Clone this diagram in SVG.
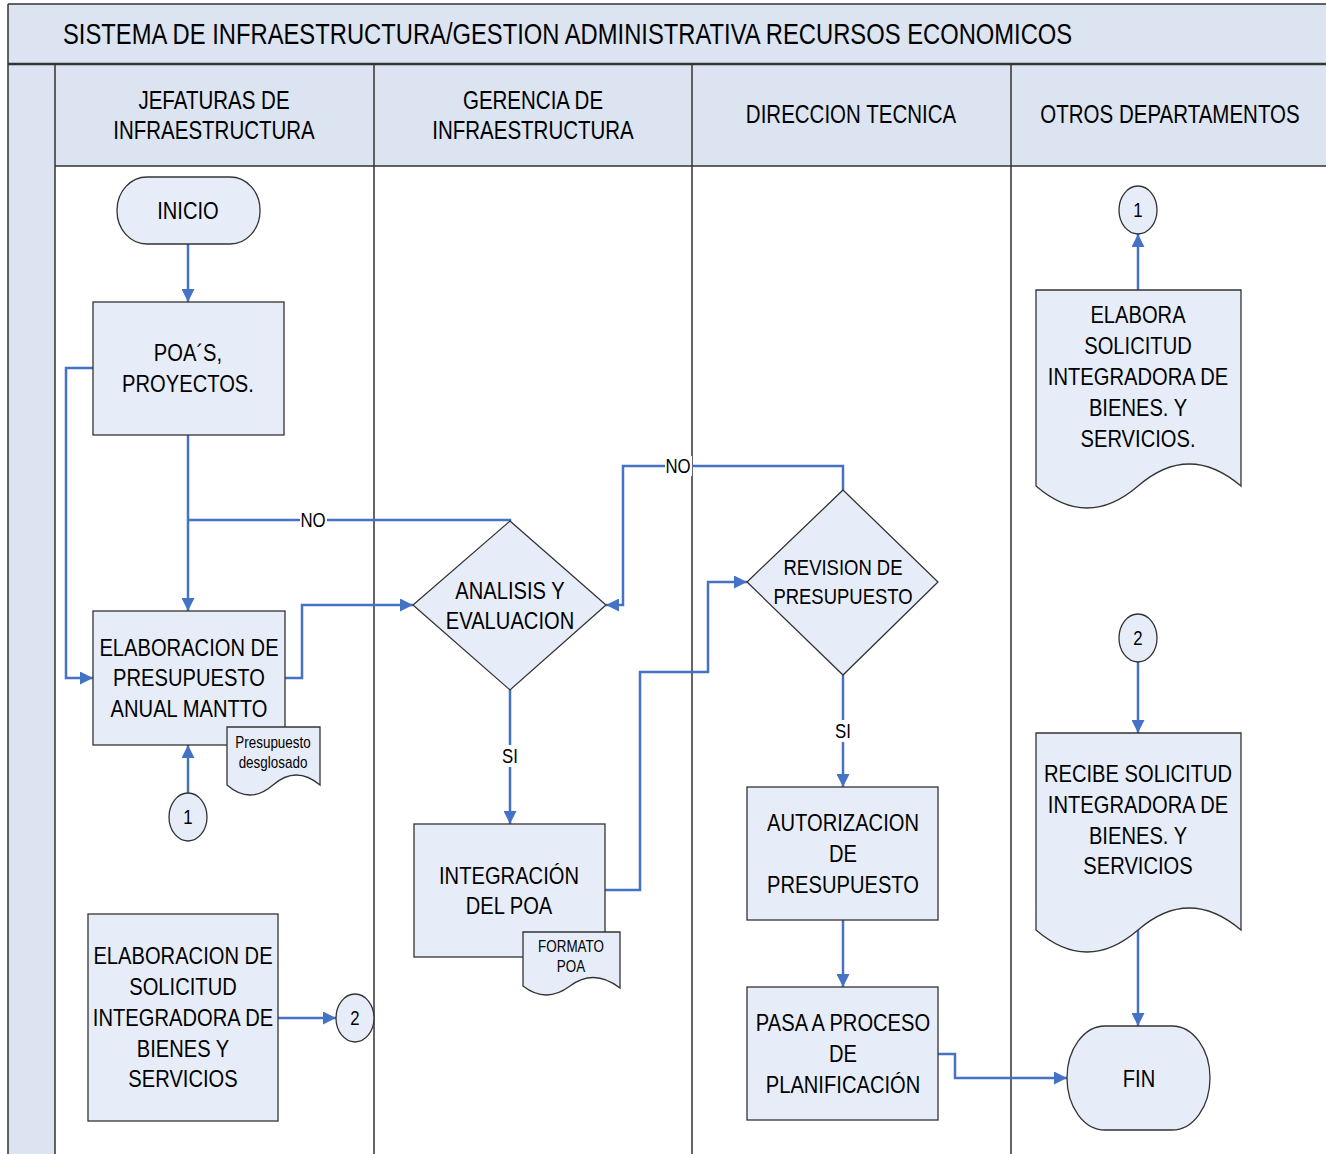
<svg xmlns="http://www.w3.org/2000/svg" width="1326" height="1154" viewBox="0 0 1326 1154">
<style>
.band{fill:#dce4f1}
.nd{fill:#e7edf8;stroke:#333;stroke-width:1.3}
.ln{stroke:#333;stroke-width:1.5;fill:none}
.c{fill:none;stroke:#4472c4;stroke-width:2.5}
.t{font-family:"Liberation Sans",Arial,sans-serif;font-size:24px;fill:#000;text-anchor:middle}
.h{font-size:25px}
.s{font-size:22px}
.sm{font-size:16px}
.num{font-size:20px}
.lb{font-size:20px}
.ttl{font-family:"Liberation Sans",Arial,sans-serif;font-size:29px;fill:#000}
</style>
<defs>
<marker id="ah" viewBox="0 0 10 10" refX="10" refY="5" markerWidth="15" markerHeight="13" markerUnits="userSpaceOnUse" orient="auto">
<path d="M0,0 L10,5 L0,10 z" fill="#4472c4"/>
</marker>
</defs>
<rect width="1326" height="1154" fill="#fff"/>
<g id="pool">
<rect class="band" x="8" y="4" width="1318" height="60"/>
<rect class="band" x="8" y="64" width="47" height="1090"/>
<rect class="band" x="55" y="64" width="1271" height="102"/>
<path class="ln" d="M8,4 H1326 M8,4 V1154"/>
<path d="M8,64 H1326" stroke="#333" stroke-width="2.5"/>
<path class="ln" d="M55,166 H1326 M55,64 V1154 M374,64 V1154 M692,64 V1154 M1011,64 V1154"/>
<text class="ttl" transform="translate(63,0) scale(.82,1)" x="0" y="44">SISTEMA DE INFRAESTRUCTURA/GESTION ADMINISTRATIVA RECURSOS ECONOMICOS</text>
<text class="t h" transform="translate(214,0) scale(.82,1)"><tspan x="0" y="109">JEFATURAS DE</tspan><tspan x="0" y="139">INFRAESTRUCTURA</tspan></text>
<text class="t h" transform="translate(533,0) scale(.82,1)"><tspan x="0" y="109">GERENCIA DE</tspan><tspan x="0" y="139">INFRAESTRUCTURA</tspan></text>
<text class="t h" transform="translate(851,0) scale(.82,1)" x="0" y="123">DIRECCION TECNICA</text>
<text class="t h" transform="translate(1170,0) scale(.82,1)" x="0" y="123">OTROS DEPARTAMENTOS</text>
</g>
<g id="connectors">
<path class="c" d="M188,244 V302" marker-end="url(#ah)"/>
<path class="c" d="M188,435 V611" marker-end="url(#ah)"/>
<path class="c" d="M510,521 V520 H188"/>
<path class="c" d="M93,368 H66 V678 H93" marker-end="url(#ah)"/>
<path class="c" d="M285,678 H302 V605 H413" marker-end="url(#ah)"/>
<path class="c" d="M510,690 V824" marker-end="url(#ah)"/>
<path class="c" d="M605,890 H640 V672 H708 V582 H747" marker-end="url(#ah)"/>
<path class="c" d="M843,490 V466 H623 V605 H606" marker-end="url(#ah)"/>
<path class="c" d="M843,675 V787" marker-end="url(#ah)"/>
<path class="c" d="M843,920 V987" marker-end="url(#ah)"/>
<path class="c" d="M938,1054 H955 V1078 H1067" marker-end="url(#ah)"/>
<path class="c" d="M188,793 V745" marker-end="url(#ah)"/>
<path class="c" d="M278,1018 H336" marker-end="url(#ah)"/>
<path class="c" d="M1138,290 V234" marker-end="url(#ah)"/>
<path class="c" d="M1138,662 V733" marker-end="url(#ah)"/>
<path class="c" d="M1138,929 V1026" marker-end="url(#ah)"/>
<rect x="300" y="510" width="27" height="20" fill="#fff"/>
<text class="t lb" transform="translate(313,0) scale(.84,1)" x="0" y="527">NO</text>
<rect x="665" y="456" width="27" height="20" fill="#fff"/>
<text class="t lb" transform="translate(678,0) scale(.84,1)" x="0" y="473">NO</text>
<rect x="499" y="745" width="22" height="22" fill="#fff"/>
<text class="t lb" transform="translate(510,0) scale(.84,1)" x="0" y="763">SI</text>
<rect x="832" y="720" width="22" height="22" fill="#fff"/>
<text class="t lb" transform="translate(843,0) scale(.84,1)" x="0" y="738">SI</text>
</g>
<g id="inicio">
<rect class="nd" x="117" y="177" width="143" height="67" rx="30" ry="33"/>
<text class="t" transform="translate(188,0) scale(.84,1)" x="0" y="219">INICIO</text>
</g>
<g id="poas">
<rect class="nd" x="93" y="302" width="191" height="133"/>
<text class="t" transform="translate(188,0) scale(.84,1)"><tspan x="0" y="361">POA´S,</tspan><tspan x="0" y="392">PROYECTOS.</tspan></text>
</g>
<g id="elaboracion-presupuesto">
<rect class="nd" x="93" y="611" width="192" height="134"/>
<text class="t" transform="translate(189,0) scale(.84,1)"><tspan x="0" y="656">ELABORACION DE</tspan><tspan x="0" y="686">PRESUPUESTO</tspan><tspan x="0" y="717">ANUAL MANTTO</tspan></text>
</g>
<g id="doc-presupuesto">
<path class="nd" d="M227,727 H320 V785 Q296,765 273,785 Q250,805 227,785 Z"/>
<text class="t sm" transform="translate(273,0) scale(.84,1)"><tspan x="0" y="748">Presupuesto</tspan><tspan x="0" y="768">desglosado</tspan></text>
</g>
<g id="con1-left">
<ellipse class="nd" cx="188" cy="817" rx="19" ry="24"/>
<text class="t num" transform="translate(188,0) scale(.84,1)" x="0" y="824">1</text>
</g>
<g id="elaboracion-solicitud">
<rect class="nd" x="88" y="914" width="190" height="207"/>
<text class="t" transform="translate(183,0) scale(.84,1)"><tspan x="0" y="964">ELABORACION DE</tspan><tspan x="0" y="995">SOLICITUD</tspan><tspan x="0" y="1026">INTEGRADORA DE</tspan><tspan x="0" y="1057">BIENES Y</tspan><tspan x="0" y="1087">SERVICIOS</tspan></text>
</g>
<g id="con2-left">
<ellipse class="nd" cx="355" cy="1018" rx="19" ry="24"/>
<text class="t num" transform="translate(355,0) scale(.84,1)" x="0" y="1025">2</text>
</g>
<g id="analisis">
<path class="nd" d="M510,521 L606,605 L510,690 L413,605 Z"/>
<text class="t" transform="translate(510,0) scale(.84,1)"><tspan x="0" y="599">ANALISIS Y</tspan><tspan x="0" y="629">EVALUACION</tspan></text>
</g>
<g id="integracion">
<rect class="nd" x="414" y="824" width="191" height="133"/>
<text class="t" transform="translate(509,0) scale(.84,1)"><tspan x="0" y="884">INTEGRACIÓN</tspan><tspan x="0" y="914">DEL POA</tspan></text>
</g>
<g id="doc-formato">
<path class="nd" d="M523,932 H620 V988 Q594,968 570,986 Q546,1004 523,986 Z"/>
<text class="t sm" transform="translate(571,0) scale(.84,1)"><tspan x="0" y="952">FORMATO</tspan><tspan x="0" y="972">POA</tspan></text>
</g>
<g id="revision">
<path class="nd" d="M843,490 L938,582 L843,675 L747,582 Z"/>
<text class="t s" transform="translate(843,0) scale(.84,1)"><tspan x="0" y="575">REVISION DE</tspan><tspan x="0" y="604">PRESUPUESTO</tspan></text>
</g>
<g id="autorizacion">
<rect class="nd" x="747" y="787" width="191" height="133"/>
<text class="t" transform="translate(843,0) scale(.84,1)"><tspan x="0" y="831">AUTORIZACION</tspan><tspan x="0" y="862">DE</tspan><tspan x="0" y="893">PRESUPUESTO</tspan></text>
</g>
<g id="pasa-planificacion">
<rect class="nd" x="747" y="987" width="191" height="133"/>
<text class="t" transform="translate(843,0) scale(.84,1)"><tspan x="0" y="1031">PASA A PROCESO</tspan><tspan x="0" y="1062">DE</tspan><tspan x="0" y="1093">PLANIFICACIÓN</tspan></text>
</g>
<g id="con1-right">
<ellipse class="nd" cx="1138" cy="210" rx="19" ry="24"/>
<text class="t num" transform="translate(1138,0) scale(.84,1)" x="0" y="217">1</text>
</g>
<g id="doc-elabora">
<path class="nd" d="M1036,290 H1241 V486 Q1189,442 1138,486 Q1087,530 1036,486 Z"/>
<text class="t" transform="translate(1138,0) scale(.84,1)"><tspan x="0" y="323">ELABORA</tspan><tspan x="0" y="354">SOLICITUD</tspan><tspan x="0" y="385">INTEGRADORA DE</tspan><tspan x="0" y="416">BIENES. Y</tspan><tspan x="0" y="447">SERVICIOS.</tspan></text>
</g>
<g id="con2-right">
<ellipse class="nd" cx="1138" cy="638" rx="19" ry="24"/>
<text class="t num" transform="translate(1138,0) scale(.84,1)" x="0" y="645">2</text>
</g>
<g id="doc-recibe">
<path class="nd" d="M1036,733 H1241 V930 Q1189,886 1138,930 Q1087,974 1036,930 Z"/>
<text class="t" transform="translate(1138,0) scale(.84,1)"><tspan x="0" y="782">RECIBE SOLICITUD</tspan><tspan x="0" y="813">INTEGRADORA DE</tspan><tspan x="0" y="844">BIENES. Y</tspan><tspan x="0" y="874">SERVICIOS</tspan></text>
</g>
<g id="fin">
<rect class="nd" x="1067" y="1026" width="143" height="104" rx="38" ry="52"/>
<text class="t" transform="translate(1139,0) scale(.84,1)" x="0" y="1087">FIN</text>
</g>
</svg>
